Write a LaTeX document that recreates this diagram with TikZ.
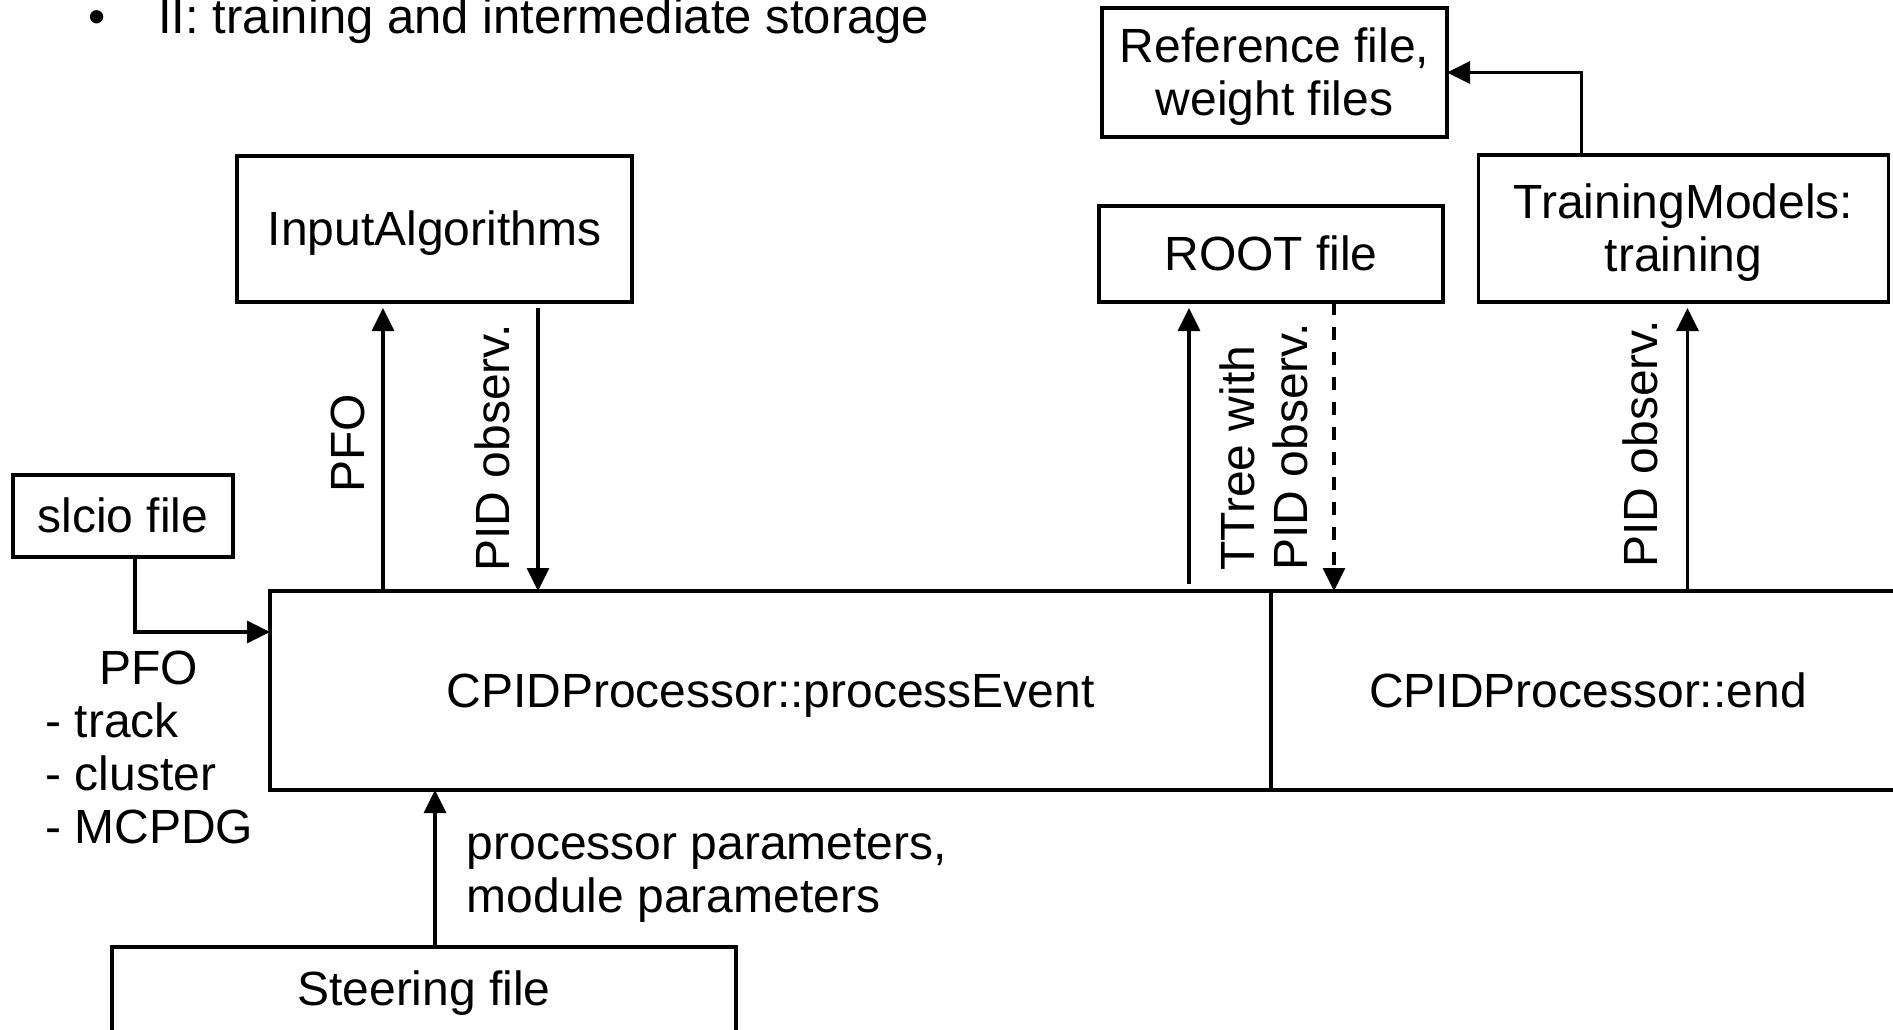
\documentclass[tikz,border=0pt]{standalone}
\usepackage{fontspec}
\setmainfont{Liberation Sans}
\usetikzlibrary{positioning,arrows.meta}

\begin{document}
\begin{tikzpicture}[
    x=0.5pt,y=-0.5pt,
    font=\fontsize{24pt}{26.5pt}\selectfont,
    box/.style={draw,line width=1.6pt,align=center,inner sep=0pt,outer sep=0pt,text height=21.7pt,text depth=5.1pt},
    twoline/.style={text height=48.2pt},
    lbl/.style={inner sep=0pt,align=left},
    arr/.style={-{Triangle[length=11.5pt,width=11pt]},line width=1.6pt},
    dasharr/.style={arr,dash pattern=on 6.5pt off 6pt}
  ]
    \useasboundingbox (0,0) rectangle (1893,1029);

    \node[lbl,anchor=base west,font=\fontsize{24.5pt}{27pt}\selectfont] (title) at (88,33) {\makebox[35pt][l]{\textbullet}II: training and intermediate storage};

    % boxes
    \node[box,twoline,minimum width=172.5pt,minimum height=64.5pt] (refbox) at (1274.5,72.5) {Reference file,\\weight files};
    \node[box,twoline,minimum width=205pt,minimum height=73.5pt] (trainbox) at (1683.5,228.5) {TrainingModels:\\training};
    \node[box,minimum width=197.5pt,minimum height=73pt] (inputbox) at (434.5,229) {InputAlgorithms};
    \node[box,minimum width=172pt,minimum height=48pt] (rootbox) at (1271,254) {ROOT file};
    \node[box,minimum width=110pt,minimum height=41pt] (slciobox) at (123,516) {slcio file};
    \node[box,minimum width=500.5pt,minimum height=99.5pt] (procbox) at (770.5,690.5) {CPIDProcessor::processEvent};
    \node[box,minimum width=317pt,minimum height=99.5pt] (endbox) at (1588,690.5) {CPIDProcessor::end};
    \node[box,text depth=10.1pt,minimum width=312pt,minimum height=46.5pt] (steerbox) at (424,993.5) {Steering file};

    % connectors
    \draw[arr] ([xshift=6pt]slciobox.south) |- ([yshift=29.25pt]procbox.west);
    \draw[arr] ([xshift=-25.75pt]inputbox.south |- procbox.north) -- ([xshift=-25.75pt,yshift=-3pt]inputbox.south);
    \draw[arr] ([xshift=51.75pt,yshift=-3pt]inputbox.south) -- ([xshift=51.75pt]inputbox.south |- procbox.north);
    \draw[arr,shorten <=3.5pt] ([xshift=-41pt]rootbox.south |- procbox.north) -- ([xshift=-41pt,yshift=-3pt]rootbox.south);
    \draw[dasharr] ([xshift=31.5pt]rootbox.south) -- ([xshift=31.5pt]rootbox.south |- procbox.north);
    \draw[arr] ([xshift=2pt]trainbox.south |- procbox.north) -- ([xshift=2pt,yshift=-3pt]trainbox.south);
    \draw[arr] ([xshift=-51pt]trainbox.north) |- (refbox.east);
    \draw[arr] ([xshift=5.5pt]steerbox.north) -- ([xshift=5.5pt]steerbox.north |- procbox.south);

    % labels
    \node[lbl,rotate=90] (pfolbl) at (348,443) {PFO};
    \node[lbl,rotate=90] (pidinlbl) at (492,448) {PID observ.};
    \node[lbl,rotate=90,anchor=west] (treelbl) at (1263.5,571) {TTree with\\PID observ.};
    \node[lbl,rotate=90] (pidtrlbl) at (1640,444) {PID observ.};
    \node[lbl,anchor=north west] (pfolist) at (45,651) {\hspace*{27pt}PFO\\- track\\- cluster\\- MCPDG};
    \node[lbl,anchor=north west] (paramlbl) at (466.5,828) {processor parameters,\\module parameters};
\end{tikzpicture}
\end{document}
